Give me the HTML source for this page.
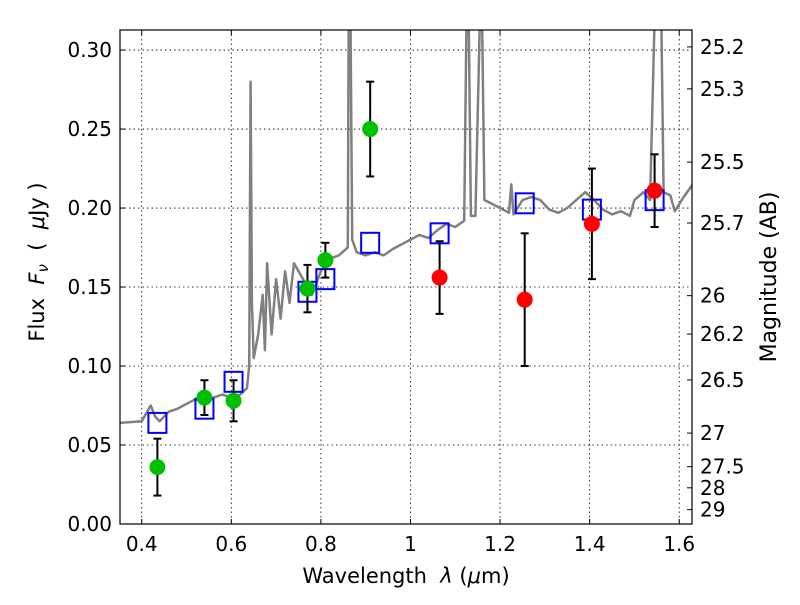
<!DOCTYPE html>
<html><head><meta charset="utf-8"><style>
body{margin:0;background:#fff;}
svg text{font-family:"DejaVu Sans","Liberation Sans",sans-serif;fill:#000;}
</style></head><body>
<svg id="chart" width="800" height="600" xmlns="http://www.w3.org/2000/svg">
<rect width="800" height="600" fill="#fff"/>
<g id="grid"></g>
<g id="spec"></g>
<g id="marks"></g>
<rect x="120" y="30" width="572" height="494" fill="none" stroke="#000" stroke-width="1.2"/>
<g id="axes"></g>
<text x="406" y="583" font-size="21" text-anchor="middle">Wavelength&#160;&#160;<tspan font-style="italic">λ</tspan> (<tspan font-style="italic">μ</tspan>m)</text>
<text transform="translate(44,262) rotate(-90)" font-size="21" text-anchor="middle">Flux&#160;&#160;<tspan font-style="italic">F<tspan font-size="15" dy="4">ν</tspan></tspan><tspan dy="-4">&#160;&#160;(&#160;&#160;</tspan><tspan font-style="italic">μ</tspan>Jy )</text>
<text transform="translate(776,277) rotate(-90)" font-size="22" text-anchor="middle">Magnitude (AB)</text>
</svg>
<script>
const xTicks=[0.4,0.6,0.8,1.0,1.2,1.4,1.6];
const xTickLabels=["0.4","0.6","0.8","1","1.2","1.4","1.6"];
const yTicks=[0,0.05,0.10,0.15,0.20,0.25,0.30];
const yTickLabels=["0.00","0.05","0.10","0.15","0.20","0.25","0.30"];
const magTicks=[25.2,25.3,25.5,25.7,26,26.2,26.5,27,27.5,28,29];
const magLabels=["25.2","25.3","25.5","25.7","26","26.2","26.5","27","27.5","28","29"];
const greenX=[0.435,0.54,0.605,0.77,0.81,0.91];
const greenY=[0.036,0.080,0.078,0.149,0.167,0.250];
const greenErr=[0.018,0.011,0.013,0.015,0.011,0.030];
const redX=[1.065,1.255,1.405,1.545];
const redY=[0.156,0.142,0.190,0.211];
const redErr=[0.023,0.042,0.035,0.023];
const modelX=[0.435,0.54,0.605,0.77,0.81,0.91,1.065,1.255,1.405,1.545];
const modelY=[0.064,0.073,0.090,0.147,0.155,0.178,0.184,0.203,0.199,0.205];
const specL=[0.35,0.40,0.42,0.43,0.44,0.46,0.48,0.50,0.52,0.54,0.56,0.58,0.60,0.62,0.635,0.64,0.643,0.646,0.65,0.66,0.67,0.675,0.68,0.69,0.70,0.71,0.72,0.73,0.74,0.76,0.78,0.80,0.82,0.84,0.86,0.862,0.866,0.87,0.88,0.90,0.92,0.94,0.96,1.0,1.02,1.04,1.06,1.08,1.10,1.12,1.125,1.13,1.135,1.145,1.155,1.16,1.165,1.18,1.20,1.22,1.225,1.23,1.25,1.27,1.29,1.31,1.33,1.35,1.37,1.39,1.41,1.43,1.45,1.47,1.49,1.50,1.52,1.535,1.545,1.56,1.565,1.58,1.59,1.61,1.63];
const specF=[0.064,0.065,0.075,0.068,0.065,0.071,0.073,0.076,0.079,0.077,0.080,0.082,0.080,0.082,0.086,0.100,0.280,0.140,0.105,0.120,0.145,0.110,0.165,0.120,0.155,0.130,0.160,0.140,0.165,0.155,0.145,0.160,0.168,0.170,0.175,0.32,0.32,0.180,0.172,0.170,0.172,0.170,0.174,0.180,0.183,0.181,0.186,0.190,0.188,0.192,0.32,0.32,0.195,0.195,0.32,0.32,0.205,0.203,0.200,0.197,0.215,0.196,0.205,0.207,0.205,0.199,0.197,0.200,0.205,0.210,0.205,0.199,0.196,0.198,0.195,0.205,0.210,0.205,0.32,0.32,0.210,0.208,0.198,0.207,0.215];

const NS="http://www.w3.org/2000/svg";
const X0=120,X1=692,Y0=524,Y1=30,XMIN=0.3515,XMAX=1.6285,YMIN=0,YMAX=0.3127;
function sx(v){return X0+(v-XMIN)/(XMAX-XMIN)*(X1-X0);}
function sy(v){return Y0-(v-YMIN)/(YMAX-YMIN)*(Y0-Y1);}
function mk(tag,attrs,parent){const e=document.createElementNS(NS,tag);for(const k in attrs)e.setAttribute(k,attrs[k]);parent.appendChild(e);return e;}
const grid=document.getElementById('grid'),axes=document.getElementById('axes'),spec=document.getElementById('spec'),marks=document.getElementById('marks');
xTicks.forEach((t,i)=>{
  const x=sx(t);
  const g=mk('line',{x1:x,x2:x,y1:Y1,y2:Y0,stroke:'#000','stroke-width':0.8,'stroke-dasharray':'1.5,3'},grid);
  
  
  mk('line',{x1:x,x2:x,y1:Y0,y2:Y0-5,stroke:'#000'},axes);
  mk('line',{x1:x,x2:x,y1:Y1,y2:Y1+5,stroke:'#000'},axes);
  const tx=mk('text',{x:x,y:Y0+27,'font-size':20,'text-anchor':'middle'},axes);
  tx.textContent=xTickLabels[i];
  
  
});
yTicks.forEach((t,i)=>{
  const y=sy(t);
  const g=mk('line',{x1:X0,x2:X1,y1:y,y2:y,stroke:'#000','stroke-width':0.8,'stroke-dasharray':'1.5,3'},grid);
  
  
  mk('line',{x1:X0,x2:X0+5,y1:y,y2:y,stroke:'#000'},axes);
  const tx=mk('text',{x:X0-8,y:y+7,'font-size':20,'text-anchor':'end'},axes);
  tx.textContent=yTickLabels[i];
  
  
});
magTicks.forEach((m,i)=>{
  const y=sy(Math.pow(10,(23.9-m)/2.5));
  mk('line',{x1:X1,x2:X1-5,y1:y,y2:y,stroke:'#000'},axes);
  const tx=mk('text',{x:X1+8,y:y+7,'font-size':20},axes);
  tx.textContent=magLabels[i];
  
  
});
const clip=mk('clipPath',{id:'pc'},document.getElementById('chart'));
mk('rect',{x:X0,y:Y1,width:X1-X0,height:Y0-Y1},clip);
spec.setAttribute('clip-path','url(#pc)');
const d=specL.map((l,i)=>(i?'L':'M')+sx(l).toFixed(1)+','+sy(specF[i]).toFixed(1)).join(' ');
const sp=mk('path',{d:d,fill:'none',stroke:'#808080','stroke-width':2.5,'stroke-linejoin':'round'},spec);


modelX.forEach((v,i)=>{
  const r=mk('rect',{x:sx(v)-9,y:sy(modelY[i])-10,width:18,height:20,fill:'none',stroke:'#0000ff','stroke-width':2},marks);
  
  
});
function pts(xs,ys,es,col,name){
  xs.forEach((v,i)=>{
    const x=sx(v),yt=sy(ys[i]+es[i]),yb=sy(ys[i]-es[i]);
    mk('line',{x1:x,x2:x,y1:yt,y2:yb,stroke:'#000','stroke-width':2},marks);
    mk('line',{x1:x-4,x2:x+4,y1:yt,y2:yt,stroke:'#000','stroke-width':2},marks);
    mk('line',{x1:x-4,x2:x+4,y1:yb,y2:yb,stroke:'#000','stroke-width':2},marks);
    const c=mk('circle',{cx:x,cy:sy(ys[i]),r:8,fill:col},marks);
    
    
  });
}
pts(greenX,greenY,greenErr,'#00c000','green-data-point');
pts(redX,redY,redErr,'#ff0000','red-data-point');
</script>
</body></html>
